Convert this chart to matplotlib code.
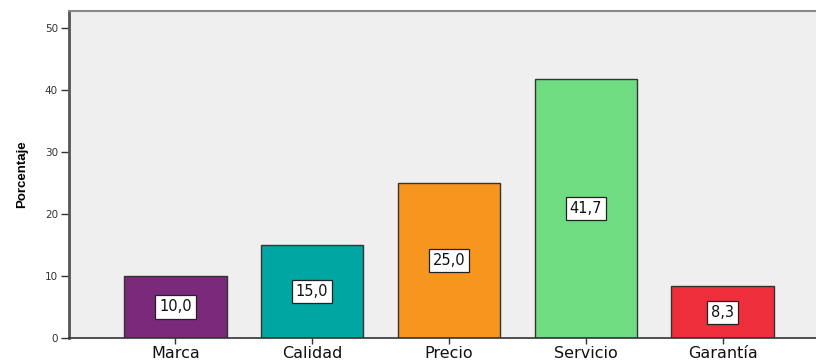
import matplotlib
matplotlib.use("Agg")
import matplotlib.pyplot as plt

categorias = ["Marca", "Calidad", "Precio", "Servicio", "Garantía"]
porcentajes = [10.0, 15.0, 25.0, 41.7, 8.3]
colores = ["#7b297b", "#00a6a2", "#f7961e", "#70dc82", "#ee2f3b"]

plt.rcParams['font.family'] = ['DejaVu Sans']

fig = plt.figure(figsize=(8.16, 3.6), dpi=100)
ax = fig.add_axes([69 / 816, 22 / 360, 760 / 816, 327 / 360])
ax.set_facecolor("#efefef")

x = list(range(len(categorias)))
ax.bar(x, porcentajes, width=0.75, color=colores, edgecolor="#333333", linewidth=1.0, zorder=2)

# etiquetas de valor en el centro de cada barra
for i, v in enumerate(porcentajes):
    ax.text(i, v / 2, f"{v:.1f}".replace(".", ","), ha="center", va="center", fontsize=10.5,
            color="#111111", zorder=3,
            bbox=dict(boxstyle="square,pad=0.28", facecolor="white", edgecolor="#222222", linewidth=0.9))

ax.set_xlim(-0.777, 4.777)
ax.set_ylim(0, 52.7)
ax.set_yticks([0, 10, 20, 30, 40, 50])
ax.set_yticklabels(["0", "10", "20", "30", "40", "50"], fontsize=7.5, color="#333333")
ax.set_xticks(x)
ax.set_xticklabels(categorias, fontsize=11.5, color="#111111")
ax.tick_params(axis="y", length=6, width=1, color="#333333", pad=2)
ax.tick_params(axis="x", length=4, width=1, color="#333333", pad=2)

ax.set_ylabel("Porcentaje", fontsize=9.5, fontweight="bold", family="Liberation Sans", labelpad=12)

ax.spines["left"].set_color("#555555")
ax.spines["left"].set_linewidth(2)
ax.spines["top"].set_color("#888888")
ax.spines["top"].set_linewidth(1.5)
ax.spines["bottom"].set_color("#333333")
ax.spines["bottom"].set_linewidth(1.2)
ax.spines["right"].set_visible(False)

fig.savefig("out.png", dpi=100, facecolor="white")
